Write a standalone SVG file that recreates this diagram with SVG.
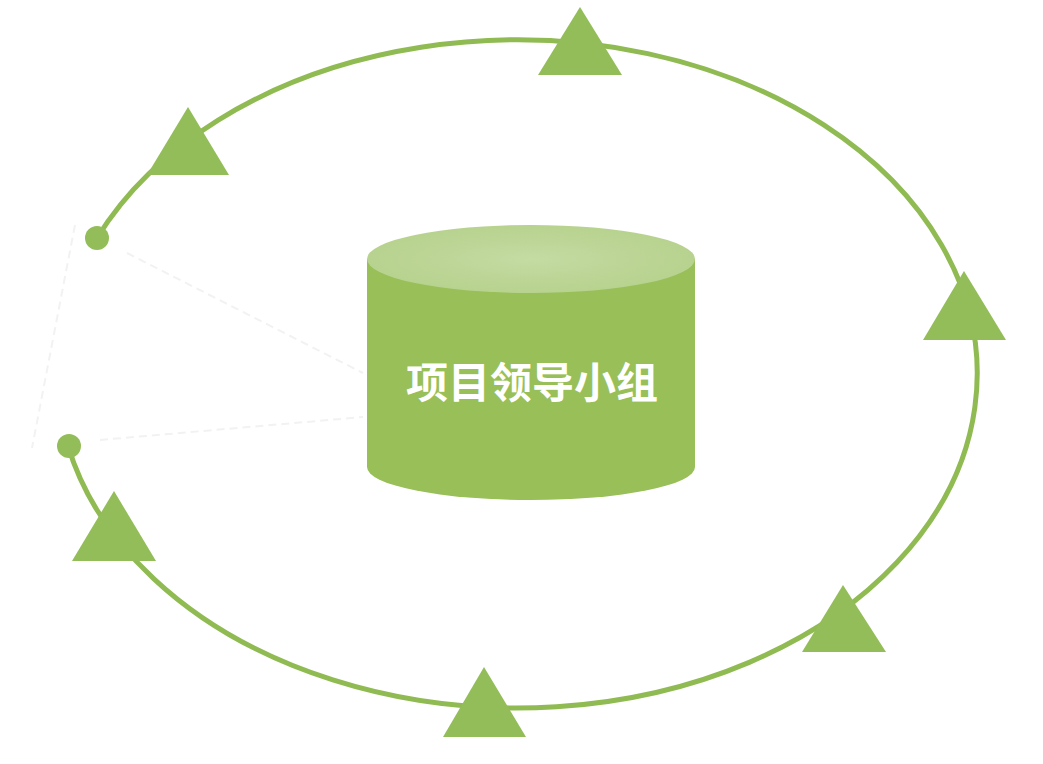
<svg xmlns="http://www.w3.org/2000/svg" width="1043" height="764" viewBox="0 0 1043 764">
<defs>
<style>
.tri{fill:#93bd58}
.ring{fill:none;stroke:#8fbb52;stroke-width:5;stroke-linecap:round}
.dot{fill:#93bd58}
.faint{fill:none;stroke:#f2f2f2;stroke-width:2;stroke-dasharray:8 5}
.label{font-family:"Noto Sans CJK SC","Noto Sans",sans-serif;font-weight:bold;font-size:42px;fill:#ffffff}
</style>
<radialGradient id="topg" cx="0.5" cy="0.5" r="0.6">
<stop offset="0" stop-color="#c4dba2"/>
<stop offset="1" stop-color="#b5d08b"/>
</radialGradient>
</defs>
<rect width="1043" height="764" fill="#ffffff"/>
<g id="faint-lines">
<path class="faint" d="M75 225 L32 448"/>
<path class="faint" d="M127 253 L363 373"/>
<path class="faint" d="M100 440 L363 417"/>
</g>
<g id="connectors">
<path class="ring" d="M97 238 A460 334 0 1 1 68 446"/>
<circle class="dot" cx="97" cy="238" r="12"/>
<circle class="dot" cx="69" cy="446" r="12"/>
</g>
<g id="markers">
<polygon class="tri" points="580,7 622,75 538,75"/>
<polygon class="tri" points="188,107 229,175 147,175"/>
<polygon class="tri" points="964,271 1006,340 923,340"/>
<polygon class="tri" points="114,491 156,561 72,561"/>
<polygon class="tri" points="843,585 886,652 802,652"/>
<polygon class="tri" points="484,667 526,737 443,737"/>
</g>
<g id="cylinder">
<path d="M367 259 L367 467 A164 33 0 0 0 695 467 L695 259 Z" fill="#98bf58"/>
<ellipse cx="531" cy="259" rx="164" ry="34" fill="url(#topg)"/>
<text class="label" x="532" y="398" text-anchor="middle">项目领导小组</text>
</g>
</svg>
